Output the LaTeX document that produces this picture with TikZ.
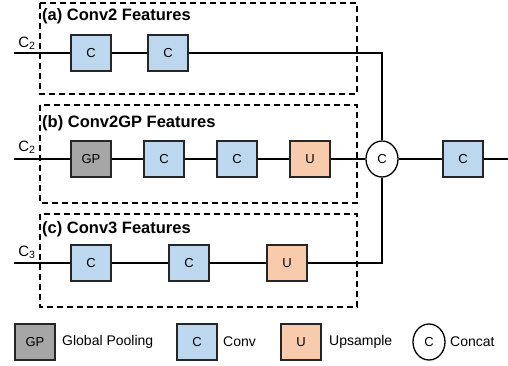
\documentclass[tikz,border=0pt]{standalone}
\usepackage{fontspec}
\setmainfont{Liberation Sans}
\usetikzlibrary{shapes.geometric}
\definecolor{gpgray}{HTML}{A6A6A6}
\definecolor{convblue}{HTML}{BDD7EE}
\definecolor{upeach}{HTML}{F8CBAD}
\tikzset{
  blk/.style={draw=black!85, line width=1.4pt, minimum width=40pt, minimum height=36pt, inner sep=0pt, font=\fontsize{13}{15}\selectfont},
  gpbox/.style={blk, fill=gpgray},
  convbox/.style={blk, fill=convblue},
  upbox/.style={blk, fill=upeach},
  catnode/.style={draw=black, line width=1.3pt, ellipse, minimum width=32pt, minimum height=36pt, inner sep=0pt, fill=white, font=\fontsize{13}{15}\selectfont},
  wire/.style={line width=1.4pt},
  grp/.style={draw, dashed, line width=1.3pt, dash pattern=on 6pt off 4pt},
  ttl/.style={anchor=west, font=\fontsize{16.5}{19}\bfseries\selectfont, inner sep=0pt},
  inlab/.style={font=\fontsize{15}{17}\selectfont, inner sep=0pt},
  legtxt/.style={anchor=west, font=\fontsize{14}{16}\selectfont, inner sep=0pt}
}
\begin{document}
\begin{tikzpicture}[x=1pt, y=-1pt]
\useasboundingbox (0,0) rectangle (508,366);
% group boxes
\draw[grp] (40,3) rectangle (357,94);
\draw[grp] (40,105) rectangle (357,203);
\draw[grp] (40,214) rectangle (357,307);
\node[ttl] (ta) at (42,16) {(a) Conv2 Features};
\node[ttl] (tb) at (42,123) {(b) Conv2GP Features};
\node[ttl] (tc) at (42,229) {(c) Conv3 Features};
% input coordinates
\coordinate (ia) at (14,53);
\coordinate (ib) at (14,159);
\coordinate (ic) at (14,263);
\node[inlab] (la) at (27,43) {C\textsubscript{2}};
\node[inlab] (lb) at (27,147) {C\textsubscript{2}};
\node[inlab] (lc) at (27,252) {C\textsubscript{3}};
% row a
\node[convbox] (a1) at (91,53) {C};
\node[convbox] (a2) at (168,53) {C};
% row b
\node[gpbox] (b1) at (91,159) {GP};
\node[convbox] (b2) at (164,159) {C};
\node[convbox] (b3) at (237,159) {C};
\node[upbox] (b4) at (310,159) {U};
\node[catnode] (cat) at (382,159) {C};
\node[convbox] (fin) at (463,159) {C};
\coordinate (out) at (508,159);
% row c
\node[convbox] (c1) at (91,263) {C};
\node[convbox] (c2) at (189,263) {C};
\node[upbox] (c3) at (287,263) {U};
% wires
\draw[wire] (ia) -- (a1); \draw[wire] (a1) -- (a2);
\draw[wire] (a2) -| (cat.north);
\draw[wire] (ib) -- (b1); \draw[wire] (b1) -- (b2); \draw[wire] (b2) -- (b3);
\draw[wire] (b3) -- (b4); \draw[wire] (b4) -- (cat); \draw[wire] (cat) -- (fin);
\draw[wire] (fin) -- (out);
\draw[wire] (ic) -- (c1); \draw[wire] (c1) -- (c2); \draw[wire] (c2) -- (c3);
\draw[wire] (c3) -| (cat.south);
% legend
\node[gpbox] (lg1) at (35,342) {GP};
\node[legtxt] (lt1) at (62,342) {Global Pooling};
\node[convbox] (lg2) at (197,342) {C};
\node[legtxt] (lt2) at (223,342) {Conv};
\node[upbox] (lg3) at (301,342) {U};
\node[legtxt] (lt3) at (329,342) {Upsample};
\node[catnode] (lg4) at (429,342) {C};
\node[legtxt] (lt4) at (450,342) {Concat};
\end{tikzpicture}
\end{document}
